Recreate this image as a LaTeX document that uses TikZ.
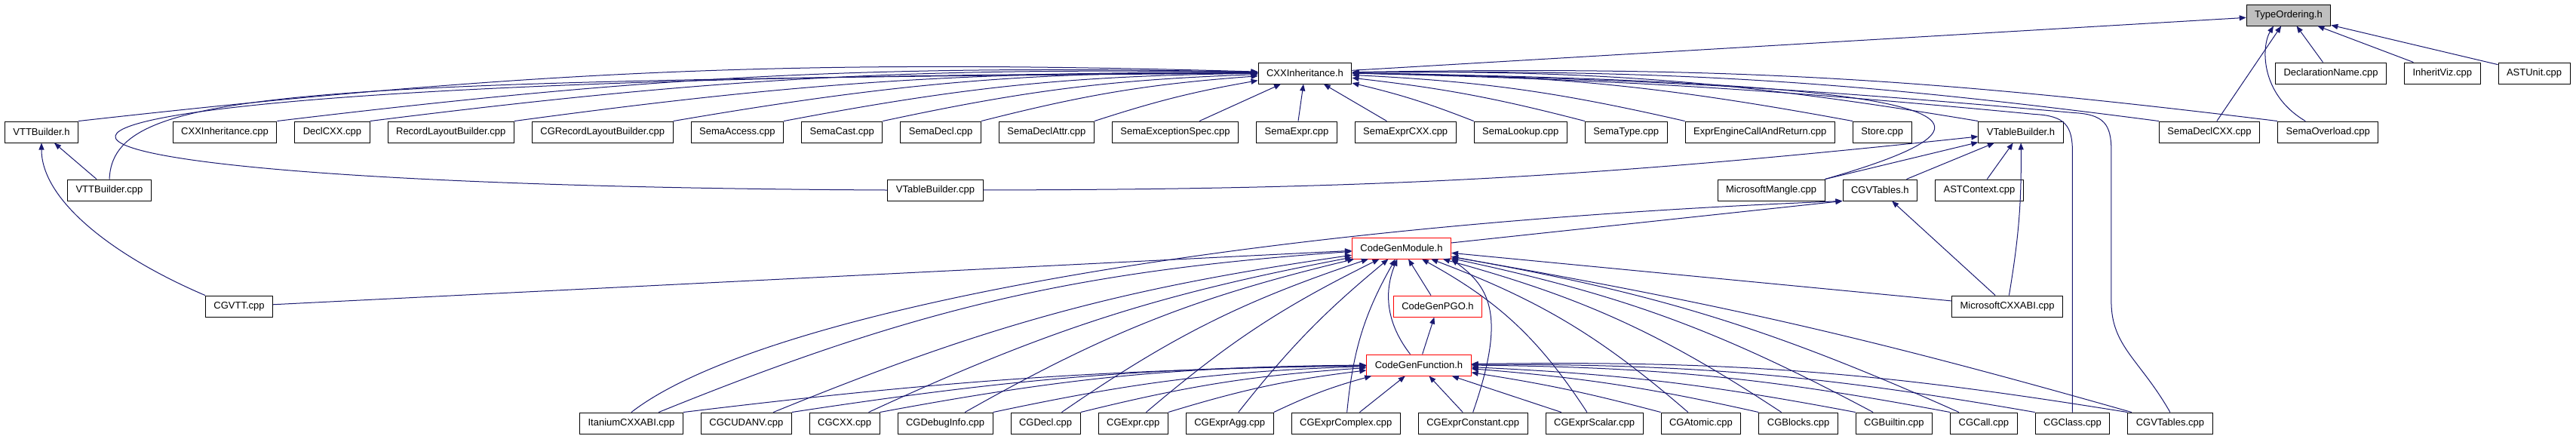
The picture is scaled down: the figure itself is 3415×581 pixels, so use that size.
\documentclass[tikz,border=0pt]{standalone}
\usepackage{fontspec}
\setmainfont{Liberation Sans}
\usetikzlibrary{arrows.meta, positioning}
\definecolor{midnight}{HTML}{191970}

\begin{document}
\begin{tikzpicture}[>={Triangle[length=2.25pt,width=1.75pt]}, node distance=5.75pt, x=0.25pt, y=-0.25pt,
	box/.style={draw=black, line width=0.25pt, fill=white, minimum height=7pt, inner xsep=2.75pt, inner ysep=0pt, font=\fontsize{3.25pt}{3.75pt}\selectfont},
	link/.style={midnight, line width=0.25pt}]
	\useasboundingbox (0,0) rectangle (3415,581);

	\node[box, fill=black!25] (typeord) at (3034,20) {TypeOrdering.h};

	\node[box] (cxxinh) at (1730,97) {CXXInheritance.h};
	\node[box] (declname) at (3090,97) {DeclarationName.cpp};
	\node[box] (inheritviz) [right=of declname] {InheritViz.cpp};
	\node[box] (astunit) [right=of inheritviz] {ASTUnit.cpp};

	\node[box] (vttH) at (55,175) {VTTBuilder.h};
	\node[box] (cxxinhCpp) at (298,175) {CXXInheritance.cpp};
	\node[box] (declcxx) [right=of cxxinhCpp] {DeclCXX.cpp};
	\node[box] (rlb) [right=of declcxx] {RecordLayoutBuilder.cpp};
	\node[box] (cgrlb) [right=of rlb] {CGRecordLayoutBuilder.cpp};
	\node[box] (semaaccess) [right=of cgrlb] {SemaAccess.cpp};
	\node[box] (semacast) [right=of semaaccess] {SemaCast.cpp};
	\node[box] (semadecl) [right=of semacast] {SemaDecl.cpp};
	\node[box] (semadeclattr) [right=of semadecl] {SemaDeclAttr.cpp};
	\node[box] (semaexc) [right=of semadeclattr] {SemaExceptionSpec.cpp};
	\node[box] (semaexpr) [right=of semaexc] {SemaExpr.cpp};
	\node[box] (semaexprcxx) [right=of semaexpr] {SemaExprCXX.cpp};
	\node[box] (semalookup) [right=of semaexprcxx] {SemaLookup.cpp};
	\node[box] (sematype) [right=of semalookup] {SemaType.cpp};
	\node[box] (exprengine) [right=of sematype] {ExprEngineCallAndReturn.cpp};
	\node[box] (store) [right=of exprengine] {Store.cpp};
	\node[box] (vtbH) at (2679,175) {VTableBuilder.h};
	\node[box] (semadeclcxx) at (2929,175) {SemaDeclCXX.cpp};
	\node[box] (semaoverload) [right=of semadeclcxx] {SemaOverload.cpp};

	\node[box] (vttCpp) at (145,252) {VTTBuilder.cpp};
	\node[box] (vtbCpp) at (1240,252) {VTableBuilder.cpp};
	\node[box] (msmangle) at (2348,252) {MicrosoftMangle.cpp};
	\node[box] (cgvtH) [right=of msmangle] {CGVTables.h};
	\node[box] (astctx) [right=of cgvtH] {ASTContext.cpp};

	\node[box, draw=red] (cgm) at (1858,329) {CodeGenModule.h};

	\node[box] (cgvtt) at (317,406) {CGVTT.cpp};
	\node[box, draw=red] (pgo) at (1906,406) {CodeGenPGO.h};
	\node[box] (mscxxabi) at (2661,406) {MicrosoftCXXABI.cpp};

	\node[box, draw=red] (cgf) at (1881,484) {CodeGenFunction.h};

	\node[box] (itanium) at (837,561) {ItaniumCXXABI.cpp};
	\node[box] (cgcudanv) [right=of itanium] {CGCUDANV.cpp};
	\node[box] (cgcxx) [right=of cgcudanv] {CGCXX.cpp};
	\node[box] (cgdebug) [right=of cgcxx] {CGDebugInfo.cpp};
	\node[box] (cgdecl) [right=of cgdebug] {CGDecl.cpp};
	\node[box] (cgexpr) [right=of cgdecl] {CGExpr.cpp};
	\node[box] (cgagg) [right=of cgexpr] {CGExprAgg.cpp};
	\node[box] (cgcomplex) [right=of cgagg] {CGExprComplex.cpp};
	\node[box] (cgconst) [right=of cgcomplex] {CGExprConstant.cpp};
	\node[box] (cgscalar) [right=of cgconst] {CGExprScalar.cpp};
	\node[box] (cgatomic) [right=of cgscalar] {CGAtomic.cpp};
	\node[box] (cgblocks) [right=of cgatomic] {CGBlocks.cpp};
	\node[box] (cgbuiltin) [right=of cgblocks] {CGBuiltin.cpp};
	\node[box] (cgcall) [right=of cgbuiltin] {CGCall.cpp};
	\node[box] (cgclass) [right=of cgcall] {CGClass.cpp};
	\node[box] (cgvtCpp) [right=of cgclass] {CGVTables.cpp};

	\draw[->, link] (cxxinh) -- (typeord);
	\draw[->, link] (semadeclcxx) -- (typeord);
	\draw[->, link] ([xshift=-7.5pt]semaoverload.north) .. controls +(-61,-36) and +(-16,26) .. ([xshift=-5pt]typeord.south);
	\draw[->, link] (declname) -- (typeord);
	\draw[->, link] (inheritviz) -- (typeord);
	\draw[->, link] (astunit) -- (typeord);

	\draw[->, link] (vttH.north east) to[bend left=4] (cxxinh);
	\draw[->, link] (cxxinhCpp.north east) to[bend left=4] (cxxinh);
	\draw[->, link] (declcxx.north east) to[bend left=4] (cxxinh);
	\draw[->, link] (rlb.north east) to[bend left=4] (cxxinh);
	\draw[->, link] (cgrlb.north east) to[bend left=5] (cxxinh);
	\draw[->, link] (semaaccess.north east) to[bend left=5] (cxxinh);
	\draw[->, link] (semacast.north east) to[bend left=5] (cxxinh);
	\draw[->, link] (semadecl.north east) to[bend left=5] (cxxinh);
	\draw[->, link] (semadeclattr.north east) to[bend left=4] (cxxinh);
	\draw[->, link] (semaexc) -- (cxxinh);
	\draw[->, link] (semaexpr) -- (cxxinh);
	\draw[->, link] (semaexprcxx) -- (cxxinh);
	\draw[->, link] (semalookup.north west) to[bend right=4] (cxxinh);
	\draw[->, link] (sematype.north west) to[bend right=4] (cxxinh);
	\draw[->, link] (exprengine.north west) to[bend right=5] (cxxinh);
	\draw[->, link] (store.north west) to[bend right=5] (cxxinh);
	\draw[->, link] (vtbH.north west) to[bend right=5] (cxxinh);
	\draw[->, link] (semadeclcxx.north west) to[bend right=4] (cxxinh);
	\draw[->, link] (semaoverload.north west) to[bend right=4] (cxxinh);
	\draw[->, link] (vttCpp.north) .. controls +(5,-118) and +(-1300,10) .. (cxxinh.west);
	\draw[->, link] (vtbCpp.west) .. controls +(-1436,-7) and +(-1928,3) .. (cxxinh.west);
	\draw[->, link] (msmangle.north east) .. controls +(236,-68) and +(907,13) .. (cxxinh.east);
	\draw[->, link] (cgclass.north) -- ++(0,-345) .. controls +(0,-35) and +(40,2) .. ++(-50,-50) to[bend right=2] (cxxinh.east);
	\draw[->, link] (cgvtCpp.north) .. controls +(-40,-70) and +(0,60) .. ++(-78,-147) -- ++(0,-200) .. controls +(0,-35) and +(40,2) .. ++(-50,-50) to[bend right=2] (cxxinh.east);

	\draw[->, link] (vttCpp) -- (vttH);
	\draw[->, link] (cgvtt.north west) .. controls +(-122,-52) and +(0,76) .. (vttH.south);

	\draw[->, link] (vtbCpp) to[bend right=3] (vtbH);
	\draw[->, link] (msmangle.north east) -- (vtbH);
	\draw[->, link] (cgvtH) -- (vtbH);
	\draw[->, link] (astctx) -- (vtbH);
	\draw[->, link] (mscxxabi) to[bend right=5] (vtbH);

	\draw[->, link] (cgm) -- (cgvtH.south west);
	\draw[->, link] (itanium.north) .. controls +(163,-127) and +(-843,34) .. (cgvtH.south west);
	\draw[->, link] (mscxxabi) -- (cgvtH);

	\draw[->, link] (cgvtt) -- (cgm);
	\draw[->, link] (itanium) to[bend left=9] (cgm);
	\draw[->, link] (cgcudanv) to[bend left=7] (cgm);
	\draw[->, link] (cgcxx) to[bend left=7] (cgm);
	\draw[->, link] (cgdebug) to[bend left=8] (cgm);
	\draw[->, link] (cgdecl) to[bend left=8] (cgm);
	\draw[->, link] (cgexpr) to[bend left=7] (cgm);
	\draw[->, link] (cgagg) to[bend left=6] (cgm);
	\draw[->, link] (cgcomplex) to[bend left=12] (cgm);
	\draw[->, link] (cgconst.north) .. controls +(44,-127) and +(52,38) .. (cgm.south east);
	\draw[->, link] (cgscalar) to[bend right=14] (cgm);
	\draw[->, link] (cgatomic) to[bend right=10] (cgm);
	\draw[->, link] (cgblocks) to[bend right=9] (cgm);
	\draw[->, link] (cgbuiltin) to[bend right=8] (cgm);
	\draw[->, link] (cgcall) to[bend right=7] (cgm);
	\draw[->, link] (cgvtCpp) to[bend right=3] (cgm);
	\draw[->, link] (mscxxabi) -- (cgm);
	\draw[->, link] (pgo) -- (cgm);
	\draw[->, link] (cgf) to[bend left=30] (cgm);

	\draw[->, link] (cgf) -- (pgo);

	\draw[->, link] (itanium.north east) to[bend left=3] (cgf);
	\draw[->, link] (cgcudanv.north east) to[bend left=4] (cgf);
	\draw[->, link] (cgcxx.north east) to[bend left=5] (cgf);
	\draw[->, link] (cgdebug.north east) to[bend left=5] (cgf);
	\draw[->, link] (cgdecl.north east) to[bend left=5] (cgf);
	\draw[->, link] (cgexpr.north east) to[bend left=5] (cgf);
	\draw[->, link] (cgagg.north east) to[bend left=5] (cgf);
	\draw[->, link] (cgcomplex) -- (cgf);
	\draw[->, link] (cgconst) -- (cgf);
	\draw[->, link] (cgscalar) -- (cgf);
	\draw[->, link] (cgatomic.north west) to[bend right=3] (cgf);
	\draw[->, link] (cgblocks.north west) to[bend right=4] (cgf);
	\draw[->, link] (cgbuiltin.north west) to[bend right=4] (cgf);
	\draw[->, link] (cgcall.north west) to[bend right=5] (cgf);
	\draw[->, link] (cgclass.north west) to[bend right=5] (cgf);
	\draw[->, link] (cgvtCpp.north west) to[bend right=5] (cgf);
\end{tikzpicture}
\end{document}
